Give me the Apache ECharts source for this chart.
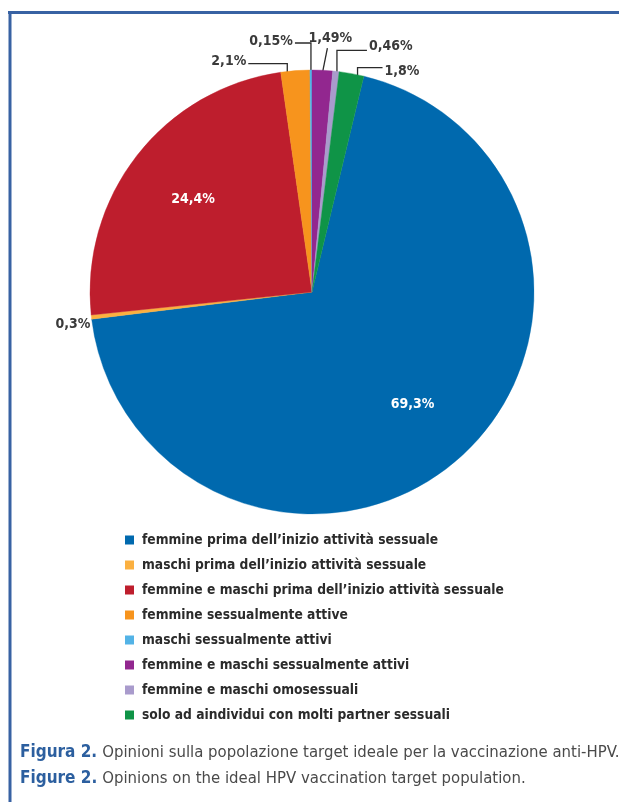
<!DOCTYPE html>
<html>
<head>
<meta charset="utf-8">
<script src="https://cdn.jsdelivr.net/npm/echarts@6/dist/echarts.min.js"></script>
<style>
html, body { margin: 0; padding: 0; background: #fff; }
#main { width: 619px; height: 802px; }
</style>
</head>
<body>
<div id="main"></div>
<script>
var categories = [
  'femmine prima dell\u2019inizio attività sessuale',
  'maschi prima dell\u2019inizio attività sessuale',
  'femmine e maschi prima dell\u2019inizio attività sessuale',
  'femmine sessualmente attive',
  'maschi sessualmente attivi',
  'femmine e maschi sessualmente attivi',
  'femmine e maschi omosessuali',
  'solo ad aindividui con molti partner sessuali'
];
var values = [69.3, 0.3, 24.4, 2.1, 0.15, 1.49, 0.46, 1.8];
var colors = ['#0069ae', '#fbb040', '#be1e2d', '#f7941d', '#53b3e6', '#92278f', '#a99bcc', '#0f9447'];

// where each percentage label sits (inside the slice, or led out with an elbow line)
var labelPlace = [
  { inside: true },
  { left: true, dx: -1, dy: 7, noLine: true },
  { inside: true },
  { shift: -8, up: 7, side: -39, dy: -2 },
  { shift: 0, up: 27, side: -16, dy: -2 },
  { slant: true, up: 22, tilt: 5 },
  { shift: 1, up: 21, side: 30, dy: -4 },
  { shift: 6, up: 6, side: 25, dy: 4 }
];

var font = "'DejaVu Sans Condensed', sans-serif";
var pieCenter = [312, 292];
var pieRadius = 222;

function pct(v) {
  return String(v).replace('.', ',') + '%';
}

var chartDom = document.getElementById('main');
var myChart = echarts.init(chartDom, null, { renderer: 'canvas' });

var pieData = [];
for (var i = 0; i < values.length; i++) {
  var p = labelPlace[i];
  pieData.push({
    name: categories[i],
    value: values[i],
    // thin border in the slice colour hides the anti-alias seams between slices
    itemStyle: { color: colors[i], borderColor: colors[i], borderWidth: 0.4 },
    label: p.inside ? { position: 'inside', color: '#fff' } : { position: 'outside', color: '#3a3a3a' },
    labelLine: { show: !(p.inside || p.noLine) }
  });
}

var option = {
  animation: false,
  backgroundColor: '#fff',
  title: {
    left: 15,
    top: 735,
    text: '{b|Figura 2.} {t|Opinioni sulla popolazione target ideale per la vaccinazione anti-HPV.}\n' +
          '{b|Figure 2.} {t|Opinions on the ideal HPV vaccination target population.}',
    textStyle: {
      rich: {
        b: { color: '#2c5f9f', fontWeight: 'bold', fontSize: 17, lineHeight: 26, fontFamily: font },
        t: { color: '#4a4a4a', fontWeight: 'normal', fontSize: 16.6, lineHeight: 26, fontFamily: font }
      }
    }
  },
  legend: {
    orient: 'vertical',
    left: 120,
    top: 527,
    icon: 'rect',
    itemWidth: 9,
    itemHeight: 9,
    itemGap: 9,
    itemStyle: { borderWidth: 0 },
    data: categories,
    textStyle: {
      color: '#2b2b2b',
      fontSize: 13.7,
      fontWeight: 'bold',
      fontFamily: font,
      lineHeight: 16,
      padding: [0, 0, 0, 3]
    }
  },
  graphic: [
    { type: 'line', shape: { x1: 8, y1: 12.5, x2: 619, y2: 12.5 }, style: { stroke: '#3862a3', lineWidth: 3 } },
    { type: 'line', shape: { x1: 10, y1: 11, x2: 10, y2: 802 }, style: { stroke: '#3862a3', lineWidth: 3 } }
  ],
  series: [
    {
      type: 'pie',
      center: pieCenter,
      radius: pieRadius,
      startAngle: 90 - (values[5] + values[6] + values[7]) * 3.6,
      clockwise: true,
      avoidLabelOverlap: false,
      silent: true,
      data: pieData,
      label: {
        show: true,
        formatter: function (p) { return pct(p.value); },
        fontSize: 14,
        fontWeight: 'bold',
        fontFamily: font
      },
      labelLine: {
        show: true,
        length: 5,
        length2: 5,
        lineStyle: { color: '#2b2b2b', width: 1.3 }
      },
      labelLayout: function (params) {
        var p = labelPlace[params.dataIndex];
        var r = params.labelRect;
        if (p.inside) {
          var mx = r.x + r.width / 2 - pieCenter[0];
          var my = r.y + r.height / 2 - pieCenter[1];
          var len = Math.sqrt(mx * mx + my * my);
          var k = pieRadius * 0.68 / len;
          return { x: pieCenter[0] + mx * k, y: pieCenter[1] + my * k, align: 'center', verticalAlign: 'middle' };
        }
        var a = params.labelLinePoints[0];
        if (p.left) {
          return { x: a[0] + p.dx, y: a[1] + p.dy, align: 'right', verticalAlign: 'middle' };
        }
        if (p.slant) {
          return {
            x: a[0] + p.tilt + 3, y: a[1] - p.up - 3, align: 'center', verticalAlign: 'bottom',
            labelLinePoints: [[a[0], a[1] + 3], [a[0] + p.tilt, a[1] - p.up]]
          };
        }
        var ax = a[0] + p.shift;
        var ly = a[1] - p.up;
        var ex = ax + p.side;
        return {
          x: ex + (p.side < 0 ? -2 : 2),
          y: ly + p.dy,
          align: p.side < 0 ? 'right' : 'left',
          verticalAlign: 'middle',
          labelLinePoints: [[ax, a[1] + 4], [ax, ly], [ex, ly]]
        };
      }
    }
  ]
};

myChart.setOption(option);
</script>
</body>
</html>
